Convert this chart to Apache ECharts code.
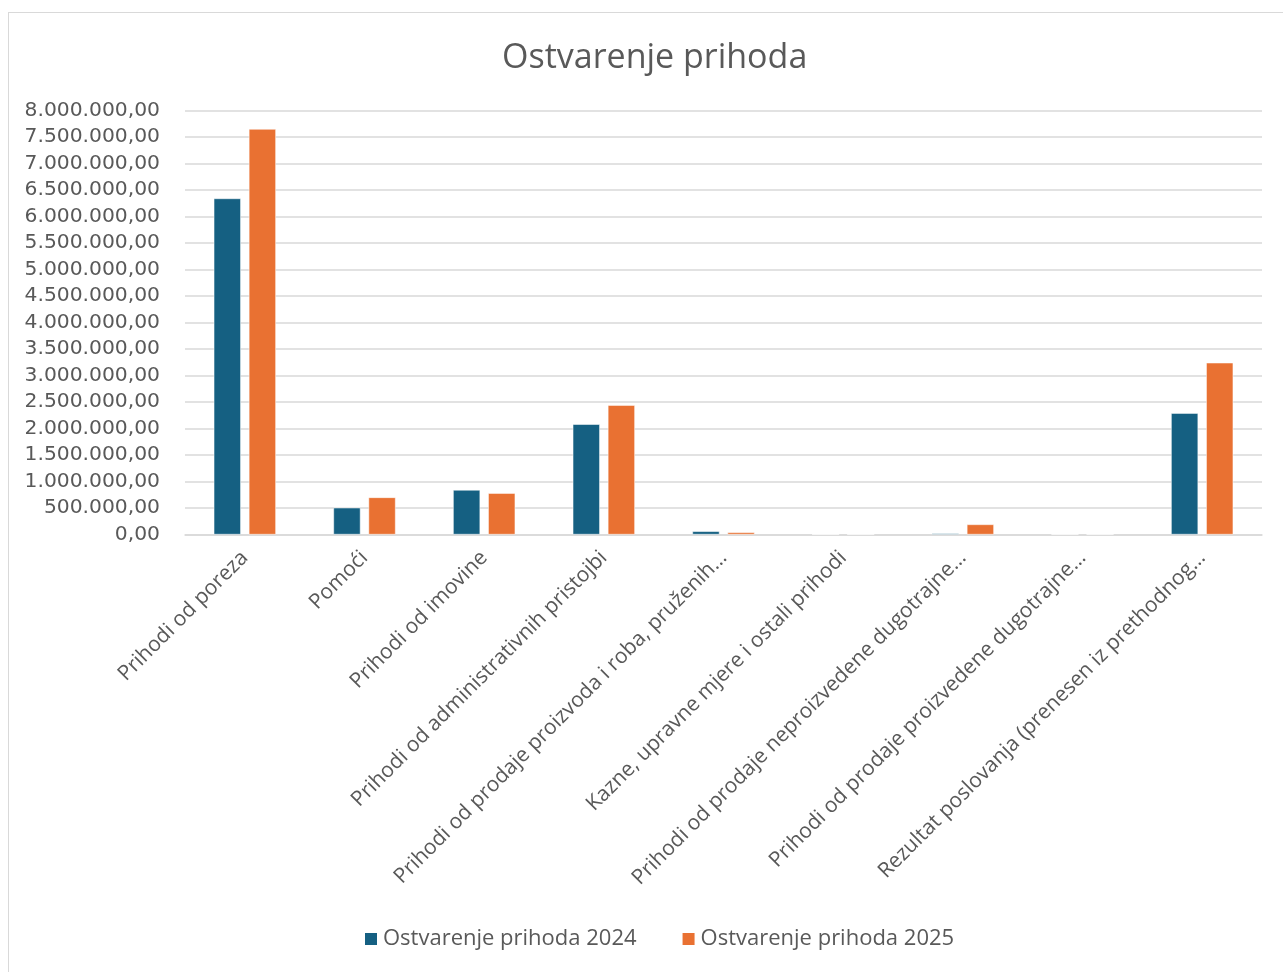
<!DOCTYPE html>
<html>
<head>
<meta charset="utf-8">
<script src="https://cdn.jsdelivr.net/npm/echarts@6/dist/echarts.min.js"></script>
<style>
html,body{margin:0;padding:0;background:#fff;}
#frame{position:absolute;left:8px;top:12px;width:1400px;height:1100px;border:1.5px solid #d9d9d9;box-sizing:border-box;}
#chart{position:absolute;left:0;top:0;width:1283px;height:972px;}
</style>
</head>
<body>
<div id="frame"></div>
<div id="chart"></div>
<script>
const categories = [
  "Prihodi od poreza",
  "Pomoći",
  "Prihodi od imovine",
  "Prihodi od administrativnih pristojbi",
  "Prihodi od prodaje proizvoda i roba, pruženih…",
  "Kazne, upravne mjere i ostali prihodi",
  "Prihodi od prodaje neproizvedene dugotrajne…",
  "Prihodi od prodaje proizvedene dugotrajne…",
  "Rezultat poslovanja (prenesen iz prethodnog…"
];
const values2024 = [6340000, 505000, 840000, 2080000, 60000, 0, 20000, 0, 2290000];
const values2025 = [7650000, 700000, 780000, 2440000, 40000, 0, 190000, 0, 3240000];
const yTicks = { min: 0, max: 8000000, interval: 500000 };
const seriesNames = ["Ostvarenje prihoda 2024", "Ostvarenje prihoda 2025"];
const colors = ["#156082", "#E97132"];

function fmt(v){
  const s = Math.round(v).toString().replace(/\B(?=(\d{3})+(?!\d))/g, ".");
  return s + ",00";
}

const chart = echarts.init(document.getElementById('chart'));
chart.setOption({
  animation: false,
  backgroundColor: 'transparent',
  title: {
    text: 'Ostvarenje prihoda',
    left: 497,
    top: 36,
    textStyle: { fontFamily: 'Open Sans', fontSize: 34, fontWeight: 'normal', color: '#595959' }
  },
  legend: {
    bottom: 17,
    left: 358,
    itemWidth: 14,
    itemHeight: 14,
    itemGap: 44,
    icon: 'rect',
    textStyle: { fontFamily: 'Open Sans', fontSize: 22, color: '#595959' },
    data: seriesNames
  },
  grid: { left: 185, right: 21, top: 110.5, bottom: 437.5, containLabel: false },
  xAxis: {
    type: 'category',
    data: categories,
    axisLine: { lineStyle: { color: '#d9d9d9', width: 1.5 } },
    axisTick: { show: false },
    axisLabel: { interval: 0, rotate: 45, margin: 20, fontFamily: 'Open Sans', fontSize: 21, color: '#595959' }
  },
  yAxis: {
    type: 'value',
    min: yTicks.min, max: yTicks.max, interval: yTicks.interval,
    axisLine: { show: false },
    axisTick: { show: false },
    splitLine: { lineStyle: { color: '#d9d9d9', width: 1.5 } },
    axisLabel: { margin: 25, fontFamily: 'DejaVu Sans', fontSize: 20.3, color: '#595959', formatter: fmt }
  },
  series: [
    { name: seriesNames[0], type: 'bar', data: values2024, barWidth: 27, barGap: '30%',
      itemStyle: { color: colors[0], borderColor: '#ffffff', borderWidth: 0.5 } },
    { name: seriesNames[1], type: 'bar', data: values2025, barWidth: 27, barGap: '30%',
      itemStyle: { color: colors[1], borderColor: '#ffffff', borderWidth: 0.5 } }
  ]
});
</script>
</body>
</html>
